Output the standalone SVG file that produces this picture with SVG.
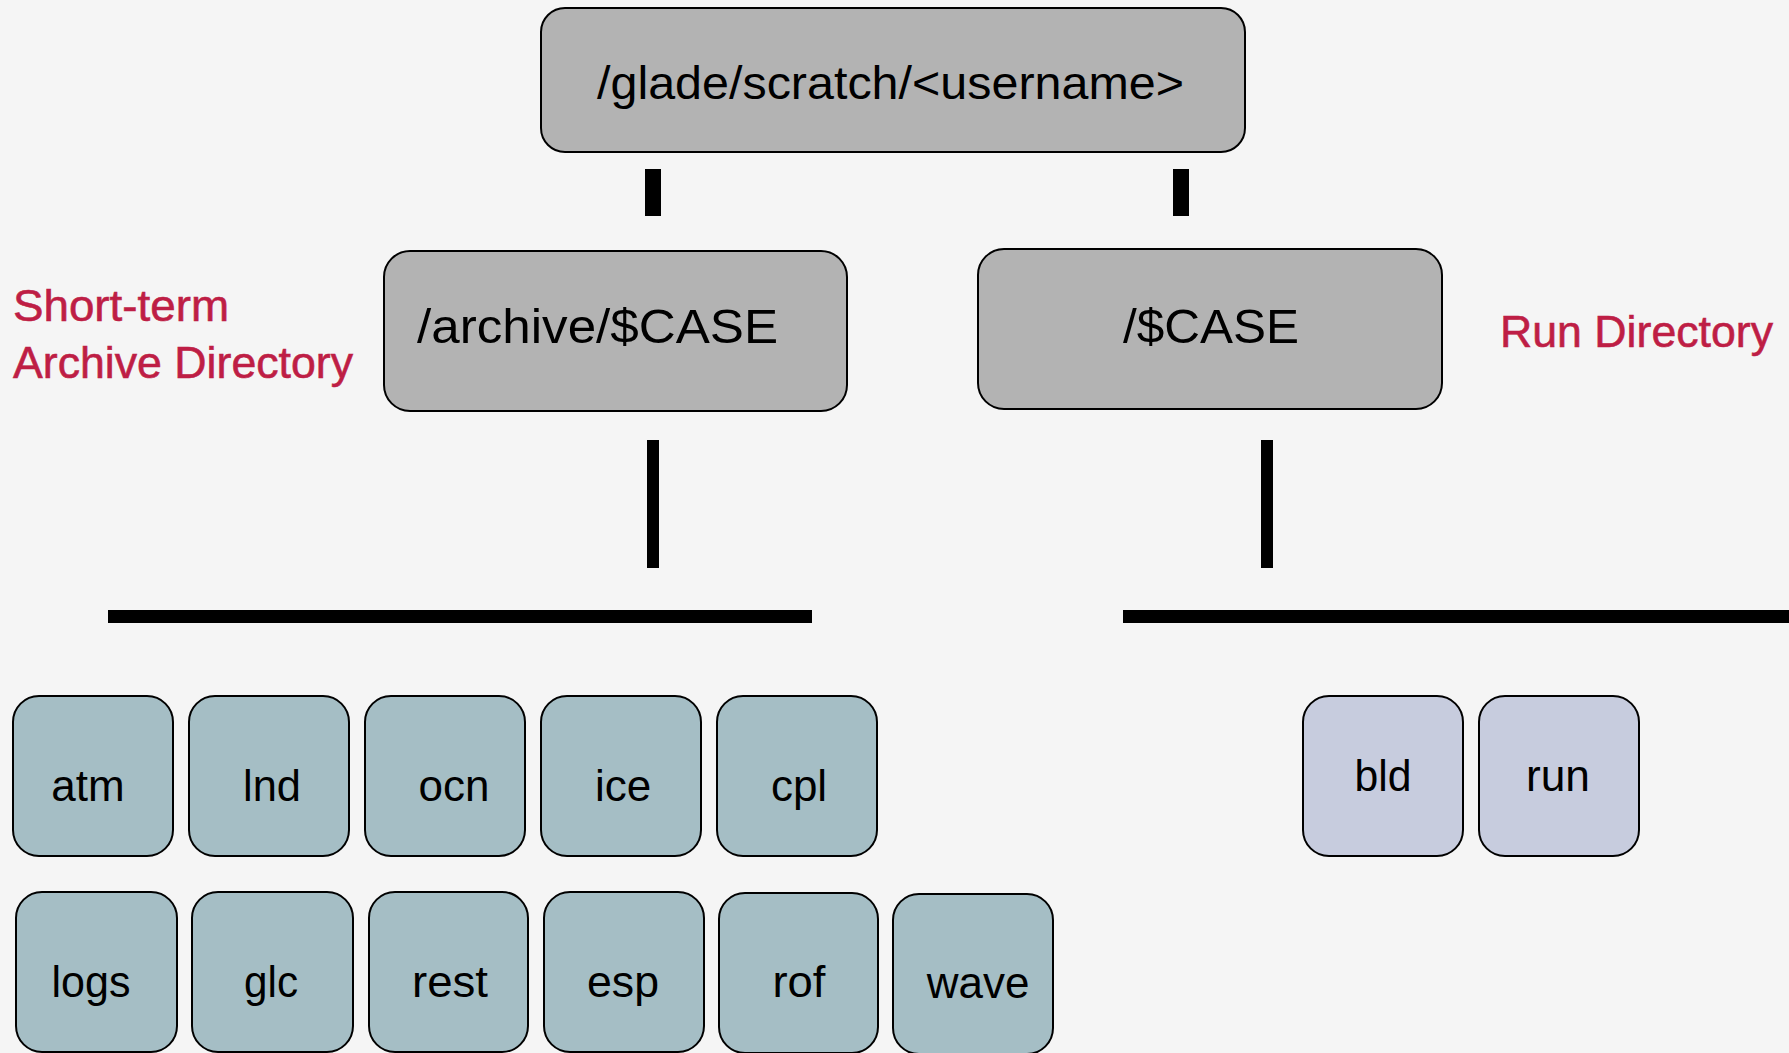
<svg xmlns="http://www.w3.org/2000/svg" width="1789" height="1053" viewBox="0 0 1789 1053">
<style>
.bg{fill:#F5F5F5}
.gray{fill:#B3B3B3;stroke:#000;stroke-width:2}
.teal{fill:#A5BEC5;stroke:#000;stroke-width:2}
.lav{fill:#C7CCDE;stroke:#000;stroke-width:2}
.t{font-family:"Liberation Sans",Arial,sans-serif;fill:#000}
.big{font-size:47px}
.mid{font-size:49px}
.sm{font-size:44px;text-anchor:middle}
.red{font-family:"Liberation Sans",Arial,sans-serif;font-size:45px;fill:#BE1E45;stroke:#BE1E45;stroke-width:0.6}
.bar{fill:#000}
</style>
<rect class="bg" x="0" y="0" width="1789" height="1053"/>

<g id="connectors">
  <rect class="bar" x="645" y="169" width="16" height="47"/>
  <rect class="bar" x="1173" y="169" width="16" height="47"/>
  <rect class="bar" x="647" y="440" width="12" height="128"/>
  <rect class="bar" x="1261" y="440" width="12" height="128"/>
  <rect class="bar" x="108" y="610" width="704" height="13"/>
  <rect class="bar" x="1123" y="610" width="666" height="13"/>
</g>

<g id="root">
  <rect class="gray" x="541" y="8" width="704" height="144" rx="24"/>
  <text class="t big" x="597" y="99" textLength="587" lengthAdjust="spacingAndGlyphs">/glade/scratch/&lt;username&gt;</text>
</g>

<g id="archive">
  <rect class="gray" x="384" y="251" width="463" height="160" rx="26"/>
  <text class="t mid" x="417" y="343" textLength="361" lengthAdjust="spacingAndGlyphs">/archive/$CASE</text>
</g>

<g id="case">
  <rect class="gray" x="978" y="249" width="464" height="160" rx="26"/>
  <text class="t mid" x="1123" y="343" textLength="176" lengthAdjust="spacingAndGlyphs">/$CASE</text>
</g>

<g id="label-archive">
  <text class="red" x="13" y="321" textLength="216" lengthAdjust="spacingAndGlyphs">Short-term</text>
  <text class="red" x="13" y="378" textLength="340" lengthAdjust="spacingAndGlyphs">Archive Directory</text>
</g>
<g id="label-run">
  <text class="red" x="1500" y="347" textLength="273" lengthAdjust="spacingAndGlyphs">Run Directory</text>
</g>

<g id="atm"><rect class="teal" x="13" y="696" width="160" height="160" rx="26"/><text class="t sm" x="88" y="801">atm</text></g>
<g id="lnd"><rect class="teal" x="189" y="696" width="160" height="160" rx="26"/><text class="t sm" x="272" y="801" textLength="58" lengthAdjust="spacingAndGlyphs">lnd</text></g>
<g id="ocn"><rect class="teal" x="365" y="696" width="160" height="160" rx="26"/><text class="t sm" x="454" y="801">ocn</text></g>
<g id="ice"><rect class="teal" x="541" y="696" width="160" height="160" rx="26"/><text class="t sm" x="623" y="801">ice</text></g>
<g id="cpl"><rect class="teal" x="717" y="696" width="160" height="160" rx="26"/><text class="t sm" x="799" y="801">cpl</text></g>

<g id="logs"><rect class="teal" x="16" y="892" width="161" height="160" rx="26"/><text class="t sm" x="91" y="997" textLength="79" lengthAdjust="spacingAndGlyphs">logs</text></g>
<g id="glc"><rect class="teal" x="192" y="892" width="161" height="160" rx="26"/><text class="t sm" x="271" y="997" textLength="54" lengthAdjust="spacingAndGlyphs">glc</text></g>
<g id="rest"><rect class="teal" x="369" y="892" width="159" height="160" rx="26"/><text class="t sm" x="450" y="997" textLength="76" lengthAdjust="spacingAndGlyphs">rest</text></g>
<g id="esp"><rect class="teal" x="544" y="892" width="160" height="160" rx="26"/><text class="t sm" x="623" y="997" textLength="72" lengthAdjust="spacingAndGlyphs">esp</text></g>
<g id="rof"><rect class="teal" x="719" y="893" width="159" height="160" rx="26"/><text class="t sm" x="799" y="997" textLength="53" lengthAdjust="spacingAndGlyphs">rof</text></g>
<g id="wave"><rect class="teal" x="893" y="894" width="160" height="160" rx="26"/><text class="t sm" x="978" y="998">wave</text></g>

<g id="bld"><rect class="lav" x="1303" y="696" width="160" height="160" rx="26"/><text class="t sm" x="1383" y="791" textLength="57" lengthAdjust="spacingAndGlyphs">bld</text></g>
<g id="run"><rect class="lav" x="1479" y="696" width="160" height="160" rx="26"/><text class="t sm" x="1558" y="791" textLength="64" lengthAdjust="spacingAndGlyphs">run</text></g>
</svg>
